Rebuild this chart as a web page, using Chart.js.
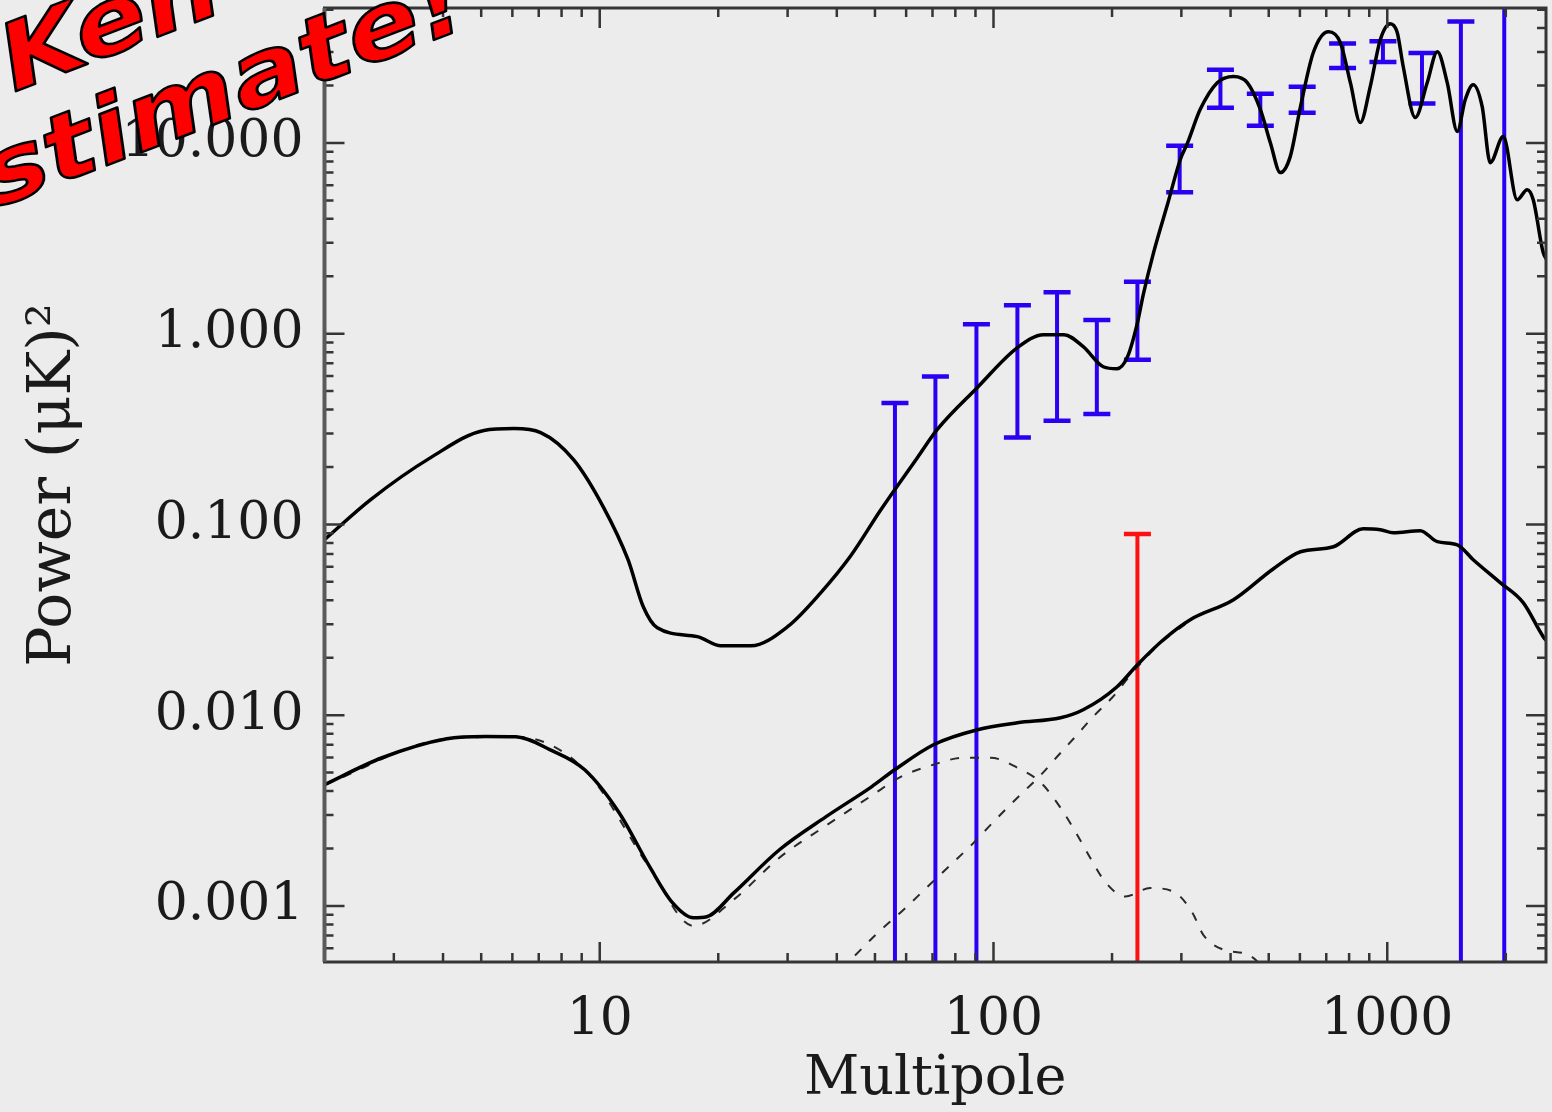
<!DOCTYPE html>
<html>
<head>
<meta charset="utf-8">
<script src="https://cdn.jsdelivr.net/npm/chart.js@4"></script>
<style>
  html, body { margin: 0; padding: 0; background: #ececec; }
</style>
</head>
<body>
<canvas id="chart" width="1552" height="1112"></canvas>
<script>
// E-mode theory curve (upper solid line)
const eeMultipole = [2.0, 2.62, 3.72, 5.08, 6.05, 7.08, 8.59, 10.2, 11.8, 12.9, 14.0, 17.7, 20.3, 24.2, 30.0, 36.4, 43.4, 51.7, 64.0, 71.9,
  90.9, 115, 134, 151, 169, 190, 206, 219, 232, 240, 255, 277, 298, 311, 335, 370, 407, 441, 476, 505,
  535, 567, 602, 649, 709, 760, 806, 854, 905, 960, 1018, 1060, 1098, 1178, 1263, 1340, 1420, 1506, 1578, 1653,
  1742, 1826, 1970, 2138, 2266, 2348, 2489, 2540];
const eeValue = [0.0832, 0.135, 0.224, 0.311, 0.318, 0.303, 0.218, 0.124, 0.0653, 0.037, 0.0287, 0.0258, 0.0231, 0.0231, 0.0291, 0.0438, 0.0685, 0.119, 0.223, 0.314,
  0.521, 0.845, 0.988, 0.988, 0.855, 0.671, 0.655, 0.758, 1.14, 1.60, 2.66, 4.81, 8.17, 10.0, 15.0, 20.7, 22.3, 20.7, 15.0, 10.0,
  6.99, 8.48, 15.5, 29.8, 38.3, 33.6, 20.7, 12.8, 19.7, 34.8, 42.2, 37.9, 25.1, 13.6, 20.7, 30.1, 20.7, 11.5, 16.9, 20.2,
  15.5, 7.88, 10.8, 5.04, 5.69, 5.04, 2.66, 2.45];

// B-mode total (lower solid line)
const bbMultipole = [2.0, 2.8, 4.09, 5.12, 6.12, 7.49, 9.16, 11.2, 13.4, 15.3, 17.3, 18.7, 21.9, 28.6, 37.5, 49.0, 56.1, 70.4, 91.1, 115,
  148, 169, 206, 232, 270, 316, 407, 514, 602, 730, 869, 960, 1036, 1213, 1340, 1506, 1653, 1936, 2214, 2489, 2540];
const bbValue = [0.00432, 0.00598, 0.00752, 0.00773, 0.0077, 0.00658, 0.00517, 0.00308, 0.0016, 0.00104, 0.000866, 0.000877, 0.00117, 0.00197, 0.00293, 0.00421, 0.00517, 0.007, 0.00839, 0.00912,
  0.00969, 0.01067, 0.01409, 0.01838, 0.02485, 0.03165, 0.04028, 0.0586, 0.0719, 0.0764, 0.0949, 0.0938, 0.0904, 0.0927, 0.0812, 0.0782, 0.0653, 0.0495, 0.0389, 0.0258, 0.0245];

// dashed components: tensor and lensing B-modes
const tensorMultipole = [2.0, 4.09, 6.12, 9.16, 13.4, 17.3, 21.9, 28.6, 37.5, 49.0, 58.1, 70.4, 83.9, 98.3, 115, 132, 148, 162, 176, 192,
  216, 250, 290, 320, 341, 384, 444, 505];
const tensorValue = [0.00432, 0.00752, 0.0077, 0.00517, 0.00158, 0.000786, 0.00108, 0.00179, 0.00263, 0.00378, 0.00475, 0.0055, 0.00598, 0.00598, 0.0053, 0.00442, 0.00327, 0.00242, 0.00179, 0.00134,
  0.00112, 0.00124, 0.00117, 0.00092, 0.000705, 0.000589, 0.000554, 0.000435];
const lensMultipole = [41.0, 50.8, 59.1, 68.0, 77.8, 89.0, 100, 115, 132, 145, 163, 179, 200, 232, 270, 316];
const lensValue = [0.000462, 0.000722, 0.000954, 0.00126, 0.00164, 0.00214, 0.00276, 0.00369, 0.00487, 0.00605, 0.00789, 0.00981, 0.01234, 0.01794, 0.02455, 0.0313];

// error bars (1e-5 / 100 = runs off the axis)
const blueMultipole = [56.2, 71.2, 90.5, 115, 145, 183, 232, 297, 377, 476, 608, 770, 975, 1225, 1538, 1982];
const blueLow = [1e-5, 1e-5, 1e-5, 0.286, 0.350, 0.379, 0.731, 5.51, 15.3, 12.3, 14.4, 24.7, 26.6, 16.1, 1e-5, 1e-5];
const blueHigh = [0.433, 0.597, 1.12, 1.41, 1.65, 1.18, 1.87, 9.68, 24.2, 18.1, 19.7, 33.2, 34.1, 29.6, 43.3, 100];
const redMultipole = [232];
const redLow = [1e-5];
const redHigh = [0.089];

const xTickValues = [10, 100, 1000];
const xTickLabels = ['10', '100', '1000'];
const yTickValues = [0.001, 0.01, 0.1, 1, 10];
const yTickLabels = ['0.001', '0.010', '0.100', '1.000', '10.000'];

const BLUE = '#2b00f2';
const RED = '#ff1010';
const SERIF = '"DejaVu Serif", "Liberation Serif", serif';

function pairs(xs, ys) {
  return xs.map((x, i) => ({ x: x, y: ys[i] }));
}

function errorBarPoints(xs, lo, hi) {
  const pts = [];
  xs.forEach((x, i) => {
    pts.push({ x: x, y: lo[i] }, { x: x, y: hi[i] }, { x: x, y: null });
  });
  return pts;
}

function curve(label, xs, ys, dashed) {
  return {
    label: label,
    data: pairs(xs, ys),
    borderColor: dashed ? '#2a2a2a' : '#000000',
    borderWidth: dashed ? 2 : 3.5,
    borderDash: dashed ? [9, 11] : [],
    pointRadius: 0,
    cubicInterpolationMode: 'monotone',
    order: dashed ? 2 : 1
  };
}

function errorBars(label, xs, lo, hi, color) {
  return {
    label: label,
    data: errorBarPoints(xs, lo, hi),
    borderColor: color,
    borderWidth: 4,
    pointStyle: 'line',
    pointRadius: 13.5,
    pointBorderColor: color,
    pointBorderWidth: 4.5,
    tension: 0,
    spanGaps: false,
    order: 3
  };
}

// chart.js reserves room for half a label at the axis ends; we don't want that here
function noEndPadding(s) {
  s.paddingTop = 0;
  s.paddingBottom = 0;
  s.paddingLeft = 0;
  s.paddingRight = 0;
}

const background = {
  id: 'background',
  beforeDraw(chart) {
    const ctx = chart.ctx;
    ctx.save();
    ctx.fillStyle = '#ececec';
    ctx.fillRect(0, 0, chart.width, chart.height);
    ctx.restore();
  }
};

// inward ticks on all four sides plus the box
const frameAndTicks = {
  id: 'frameAndTicks',
  afterDatasetsDraw(chart) {
    const { ctx, chartArea: a, scales: { x, y } } = chart;
    ctx.save();
    ctx.strokeStyle = '#353535';
    ctx.lineWidth = 2.5;
    ctx.beginPath();
    for (let d = 1; d <= 1000; d *= 10) {
      for (let m = 1; m <= 9; m++) {
        const v = d * m;
        if (v < x.min || v > x.max) continue;
        const px = x.getPixelForValue(v);
        const len = m === 1 ? 20 : 9;
        ctx.moveTo(px, a.bottom); ctx.lineTo(px, a.bottom - len);
        ctx.moveTo(px, a.top); ctx.lineTo(px, a.top + len);
      }
    }
    for (let d = 0.0001; d <= 10.5; d *= 10) {
      for (let m = 1; m <= 9; m++) {
        const v = d * m;
        if (v < y.min || v > y.max) continue;
        const py = y.getPixelForValue(v);
        const len = m === 1 ? 20 : 9;
        ctx.moveTo(a.left, py); ctx.lineTo(a.left + len, py);
        ctx.moveTo(a.right, py); ctx.lineTo(a.right - len, py);
      }
    }
    ctx.stroke();
    ctx.lineWidth = 3;
    ctx.strokeRect(a.left, a.top, a.right - a.left, a.bottom - a.top);
    ctx.strokeStyle = '#5a5a5a';
    ctx.lineWidth = 4;
    ctx.beginPath();
    ctx.moveTo(a.left, a.top); ctx.lineTo(a.left, a.bottom);
    ctx.stroke();
    ctx.restore();
  }
};

// red rotated "stamp" text; starts at the left end of the visible part
function stampLine(ctx, text, hidden, x, y) {
  ctx.save();
  ctx.translate(x, y);
  ctx.rotate(-21 * Math.PI / 180);
  ctx.scale(1.17, 1);
  ctx.font = 'italic bold 92px "DejaVu Sans", sans-serif';
  ctx.textAlign = 'left';
  ctx.textBaseline = 'alphabetic';
  const x0 = hidden ? -ctx.measureText(hidden).width : 0;
  ctx.fillStyle = '#ff0000';
  ctx.strokeStyle = '#000000';
  ctx.lineWidth = 2.5;
  ctx.lineJoin = 'round';
  ctx.fillText(text, x0, 0);
  ctx.strokeText(text, x0, 0);
  ctx.restore();
}

const stamp = {
  id: 'stamp',
  afterDraw(chart) {
    stampLine(chart.ctx, "Ken's", '', 14, 92);
    stampLine(chart.ctx, 'Estimate!', 'E', -4, 208);
  }
};

new Chart(document.getElementById('chart'), {
  type: 'line',
  data: {
    datasets: [
      curve('EE', eeMultipole, eeValue, false),
      curve('BB', bbMultipole, bbValue, false),
      curve('BB tensor', tensorMultipole, tensorValue, true),
      curve('BB lensing', lensMultipole, lensValue, true),
      errorBars('data', blueMultipole, blueLow, blueHigh, BLUE),
      errorBars('upper limit', redMultipole, redLow, redHigh, RED)
    ]
  },
  options: {
    responsive: false,
    animation: false,
    devicePixelRatio: 1,
    events: [],
    layout: { autoPadding: false, padding: { top: 8, right: 6, left: 0, bottom: 0 } },
    plugins: {
      legend: { display: false },
      tooltip: { enabled: false }
    },
    scales: {
      x: {
        type: 'logarithmic',
        position: 'bottom',
        min: 2,
        max: 2530,
        grid: { display: false, drawTicks: false },
        border: { display: false },
        afterBuildTicks: (s) => { s.ticks = xTickValues.map(v => ({ value: v })); },
        afterFit: (s) => { s.height = 150; noEndPadding(s); },
        ticks: {
          autoSkip: false,
          maxRotation: 0,
          padding: 27,
          color: '#1a1a1a',
          font: { family: SERIF, size: 52 },
          callback: (v, i) => xTickLabels[i]
        },
        title: {
          display: true,
          text: 'Multipole',
          color: '#1a1a1a',
          font: { family: SERIF, size: 54 },
          padding: { top: 0, bottom: 0 }
        }
      },
      y: {
        type: 'logarithmic',
        position: 'left',
        min: 0.000508,
        max: 51,
        grid: { display: false, drawTicks: false },
        border: { display: false },
        afterBuildTicks: (s) => { s.ticks = yTickValues.map(v => ({ value: v })); },
        afterFit: (s) => { s.width = 324.5; noEndPadding(s); },
        ticks: {
          autoSkip: false,
          padding: 21,
          color: '#1a1a1a',
          font: { family: SERIF, size: 52 },
          callback: (v, i) => yTickLabels[i]
        },
        title: {
          display: true,
          text: 'Power (μK)²',
          color: '#1a1a1a',
          font: { family: SERIF, size: 60 },
          padding: { top: 18, bottom: 0 }
        }
      }
    }
  },
  plugins: [background, frameAndTicks, stamp]
});
</script>
</body>
</html>
